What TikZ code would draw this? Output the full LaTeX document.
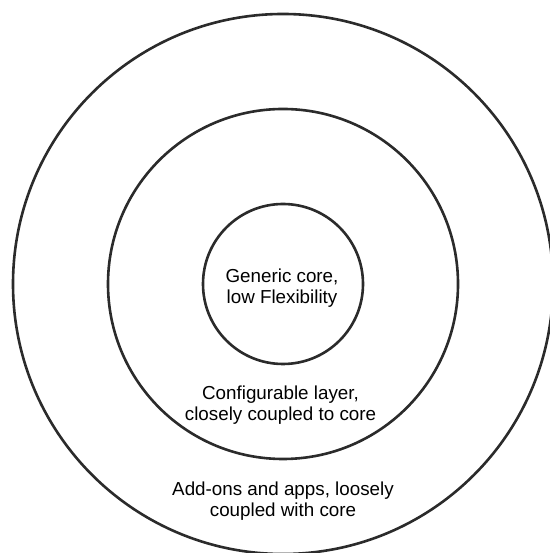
\documentclass[tikz,border=0pt]{standalone}
\usepackage{fontspec}
\setmainfont{Liberation Sans}
\definecolor{ringline}{HTML}{2B2B2B}
\begin{document}
\begin{tikzpicture}[x=1pt,y=1pt,
  ring/.style={circle, draw=ringline, line width=2.6pt, inner sep=0pt, fill=none},
  label/.style={align=center, inner sep=0pt, font=\fontsize{18.8}{21}\selectfont, text=black}]
  \useasboundingbox (0,0) rectangle (549,553);
  \coordinate (c) at (283,269);
  % three concentric rings
  \node[ring, minimum size=540pt] (outer) at (c) {};
  \node[ring, minimum size=350pt] (middle) at (c) {};
  \node[ring, minimum size=160pt] (inner) at (c) {};
  % ring labels
  \node[label] (coretext) at (282,264.5) {Generic core,\\low Flexibility};
  \node[label] (configtext) at (280.5,147.5) {Configurable layer,\\closely coupled to core};
  \node[label] (addontext) at (283,52) {Add-ons and apps, loosely\\coupled with core};
\end{tikzpicture}
\end{document}
